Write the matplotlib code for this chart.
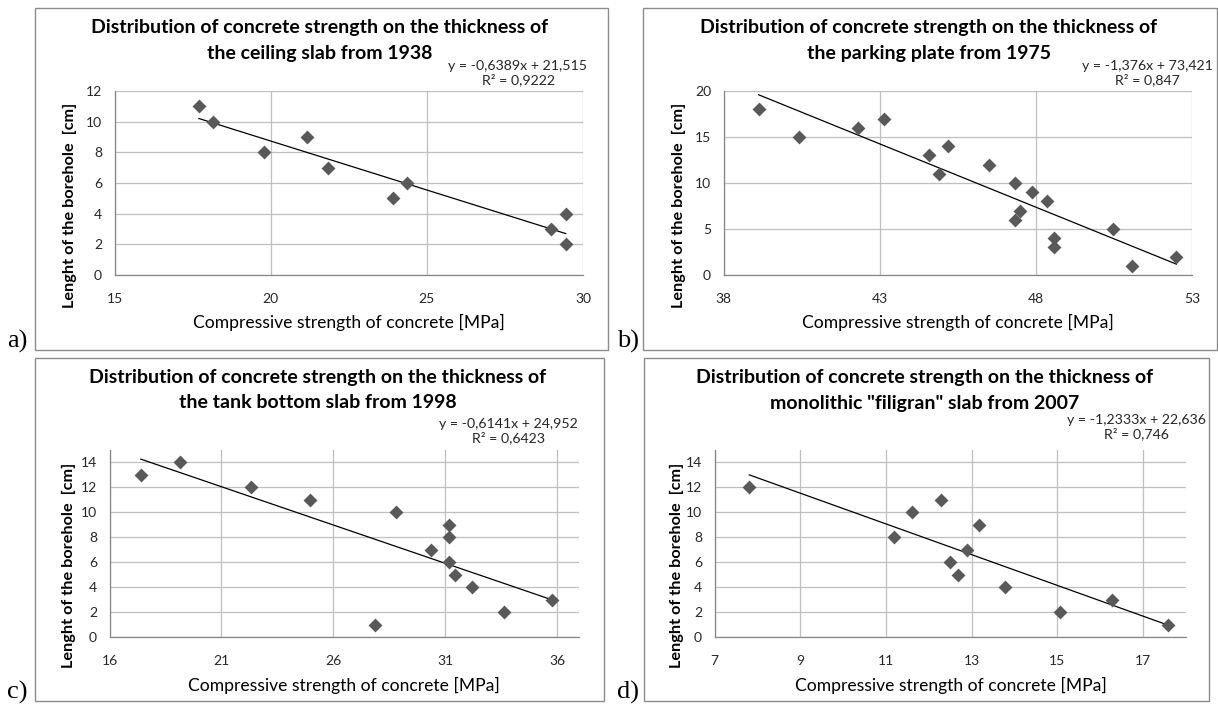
import matplotlib
matplotlib.use("Agg")
import matplotlib.pyplot as plt
from matplotlib.patches import Rectangle
import numpy as np

W, H = 1218, 706

# a) ceiling slab 1938
a_strength = [17.7, 18.14, 19.78, 21.15, 21.83, 23.9, 24.35, 28.98, 29.45, 29.45]
a_length = [11, 10, 8, 9, 7, 5, 6, 3, 4, 2]
a_fit = (-0.6389, 21.515)

# b) parking plate 1975
b_strength = [39.12, 40.4, 42.31, 43.13, 44.57, 44.89, 45.2, 46.51, 47.32, 47.32,
              47.5, 47.88, 48.37, 48.58, 48.58, 50.46, 51.07, 52.5]
b_length = [18, 15, 16, 17, 13, 11, 14, 12, 10, 6, 7, 9, 8, 4, 3, 5, 1, 2]
b_fit = (-1.376, 73.421)

# c) tank bottom slab 1998
c_strength = [17.4, 19.14, 22.34, 24.94, 28.82, 27.87, 30.35, 31.16, 31.16, 31.16,
              31.44, 32.22, 33.64, 35.76]
c_length = [13, 14, 12, 11, 10, 1, 7, 9, 8, 6, 5, 4, 2, 3]
c_fit = (-0.6141, 24.952)

# d) monolithic "filigran" slab 2007
d_strength = [7.81, 11.19, 11.6, 12.29, 12.5, 12.68, 12.88, 13.18, 13.77, 15.06, 16.28, 17.57]
d_length = [12, 8, 10, 11, 6, 5, 7, 9, 4, 2, 3, 1]
d_fit = (-1.2333, 22.636)

title_top = "Distribution of concrete strength on the thickness of"
title_bottom = [
    "the ceiling slab from 1938",
    "the parking plate from 1975",
    "the tank bottom slab from 1998",
    "monolithic \"filigran\" slab from 2007",
]
equations = [
    "y = -0,6389x + 21,515\nR² = 0,9222",
    "y = -1,376x + 73,421\nR² = 0,847",
    "y = -0,6141x + 24,952\nR² = 0,6423",
    "y = -1,2333x + 22,636\nR² = 0,746",
]
letters = ["a)", "b)", "c)", "d)"]

FONT = "Lato"
GRID = "#bfbfbf"
AXIS = "#868686"
MARK = "#595959"


def fx(px):
    return px / W


def fy(py):
    return 1 - py / H


# pixel layout of each panel
layout = [
    dict(box=(35, 8, 608, 350), ax=(114.6, 91, 583, 275), title=(320, 27, 53), eq=(518, 73),
         ylab=(70, 205), xlab=(349, 322), letter=(7, 348),
         xlim=(15, 30), xticks=[15, 20, 25, 30], ylim=(0, 12), yticks=range(0, 13, 2)),
    dict(box=(643, 8, 1217, 350), ax=(723.6, 91, 1192, 275), title=(929, 27, 53), eq=(1147, 73),
         ylab=(679, 205), xlab=(958, 322), letter=(617, 348),
         xlim=(38, 53), xticks=[38, 43, 48, 53], ylim=(0, 20), yticks=range(0, 21, 5)),
    dict(box=(35, 358, 604, 701), ax=(109.5, 450, 579.4, 637), title=(318, 378, 403), eq=(508, 431),
         ylab=(69, 565), xlab=(344, 685), letter=(7, 699),
         xlim=(16, 37), xticks=[16, 21, 26, 31, 36], ylim=(0, 15), yticks=range(0, 15, 2)),
    dict(box=(644, 358, 1209, 701), ax=(714.6, 450, 1186, 637), title=(924.5, 378, 403), eq=(1136, 427),
         ylab=(677, 565), xlab=(951, 685), letter=(617, 699),
         xlim=(7, 18), xticks=[7, 9, 11, 13, 15, 17], ylim=(0, 15), yticks=range(0, 15, 2)),
]

series = [(a_strength, a_length, a_fit), (b_strength, b_length, b_fit),
          (c_strength, c_length, c_fit), (d_strength, d_length, d_fit)]

fig = plt.figure(figsize=(W / 100, H / 100), dpi=100)

for i, lay in enumerate(layout):
    x, y, fit = series[i]

    # outer chart frame
    x0, y0, x1, y1 = lay["box"]
    fig.patches.append(Rectangle((fx(x0), fy(y1)), fx(x1 - x0), (y1 - y0) / H,
                                 transform=fig.transFigure, fill=False,
                                 edgecolor="#8c8c8c", linewidth=1.0))

    l, t, r, b = lay["ax"]
    ax = fig.add_axes([fx(l), fy(b), fx(r - l), (b - t) / H])

    ax.scatter(x, y, marker="D", s=50, color=MARK, zorder=3, linewidths=0)
    xs = np.array([min(x), max(x)])
    ax.plot(xs, fit[0] * xs + fit[1], color="black", linewidth=0.9, zorder=2)

    ax.set_xlim(*lay["xlim"])
    ax.set_ylim(*lay["ylim"])
    ax.set_xticks(lay["xticks"])
    ax.set_yticks(list(lay["yticks"]))
    ax.grid(True, color=GRID, linewidth=0.9)
    ax.set_axisbelow(True)
    for s in ["top", "right"]:
        ax.spines[s].set_visible(False)
    for s in ["left", "bottom"]:
        ax.spines[s].set_color(AXIS)
        ax.spines[s].set_linewidth(0.9)
    ax.tick_params(length=0, labelsize=10, labelcolor="#262626", pad=9)
    ax.tick_params(axis="x", pad=13)
    for lab in ax.get_xticklabels() + ax.get_yticklabels():
        lab.set_family(FONT)

    tx, ty1, ty2 = lay["title"]
    fig.text(fx(tx), fy(ty1), title_top, ha="center", va="center",
             family=FONT, fontweight="bold", fontsize=14)
    fig.text(fx(tx), fy(ty2), title_bottom[i], ha="center", va="center",
             family=FONT, fontweight="bold", fontsize=14)
    fig.text(fx(lay["eq"][0]), fy(lay["eq"][1]), equations[i], ha="center", va="center",
             family=FONT, fontsize=10.2, color="#262626", linespacing=1.15)
    fig.text(fx(lay["ylab"][0]), fy(lay["ylab"][1]), "Lenght of the borehole  [cm]",
             rotation=90, ha="center", va="center", family=FONT, fontweight="bold", fontsize=11.7)
    fig.text(fx(lay["xlab"][0]), fy(lay["xlab"][1]), "Compressive strength of concrete [MPa]",
             ha="center", va="center", family=FONT, fontsize=12.6)
    fig.text(fx(lay["letter"][0]), fy(lay["letter"][1]), letters[i], ha="left", va="baseline",
             family="Liberation Serif", fontsize=19)

fig.savefig("out.png", dpi=100)
